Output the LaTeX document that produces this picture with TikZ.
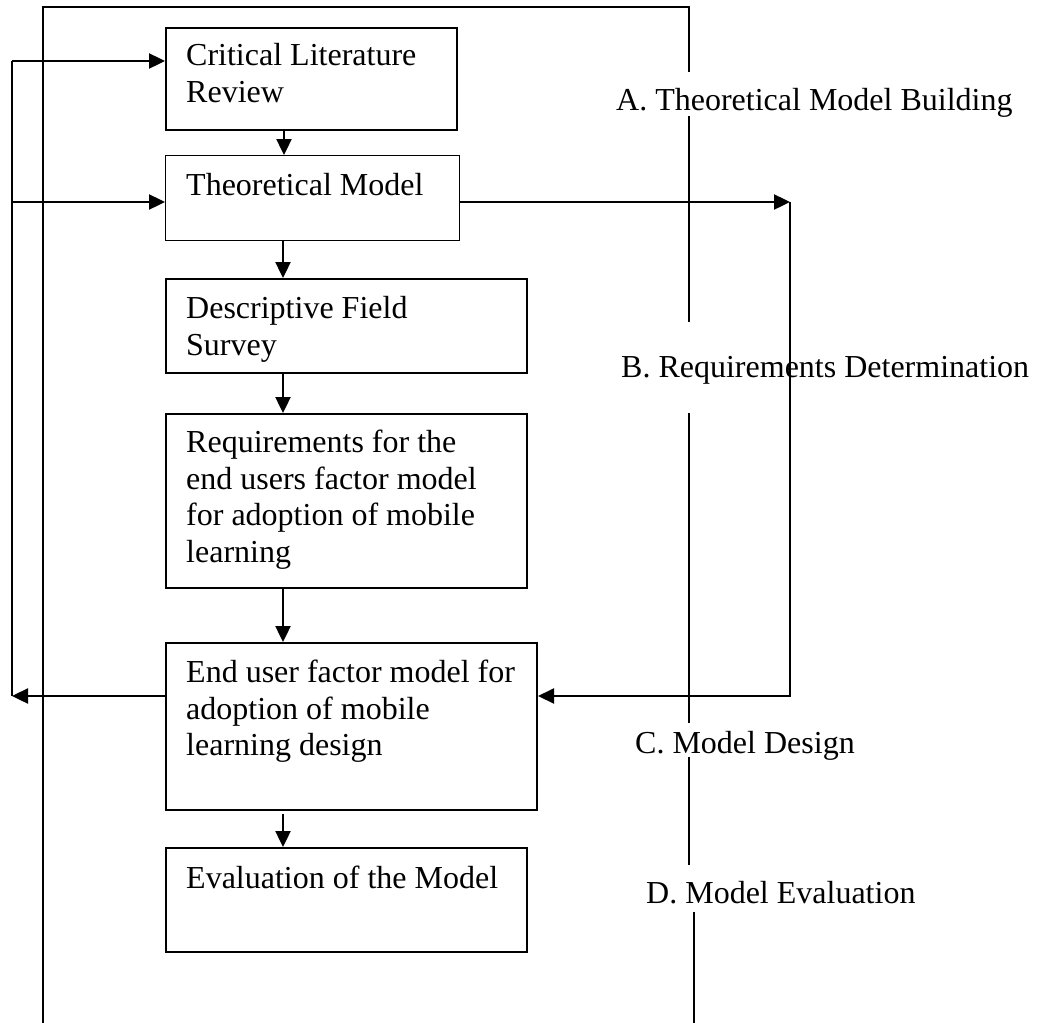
\documentclass[tikz,border=0pt]{standalone}
\usepackage{fontspec}
\setmainfont{Liberation Serif}
\usetikzlibrary{arrows.meta}
\begin{document}
\begin{tikzpicture}[x=1pt,y=-1pt,
  stage/.style={draw=black, line width=2pt, rectangle, inner sep=0pt, anchor=north west},
  boxtext/.style={anchor=north west, inner sep=0pt, align=left,
    font=\fontsize{32pt}{36.8pt}\selectfont},
  phaselabel/.style={anchor=base west, inner sep=0pt,
    font=\fontsize{32pt}{36.8pt}\selectfont},
  flow/.style={line width=2.4pt, -{Triangle[length=16pt,width=15pt]}},
  loopline/.style={line width=2.2pt},
  frameline/.style={line width=1.7pt}]
\useasboundingbox (0,0) rectangle (1042,1023);

% process boxes
\node[stage, minimum width=291pt, minimum height=102pt] (clr) at (165,27) {};
\node[stage, line width=1.3pt, minimum width=294pt, minimum height=85pt] (tm) at (165,155) {};
\node[stage, minimum width=361pt, minimum height=94pt] (dfs) at (165,278) {};
\node[stage, minimum width=361pt, minimum height=174pt] (req) at (165,413) {};
\node[stage, minimum width=371pt, minimum height=167pt] (eum) at (165,642) {};
\node[stage, minimum width=361pt, minimum height=104pt] (eval) at (165,847) {};

% box captions
\node[boxtext] (clr-t) at ([shift={(21,12)}]clr.north west)
  {\rule{0pt}{26pt}Critical Literature\\Review};
\node[boxtext] (tm-t) at ([shift={(21,14)}]tm.north west)
  {\rule{0pt}{26pt}Theoretical Model};
\node[boxtext] (dfs-t) at ([shift={(21,14)}]dfs.north west)
  {\rule{0pt}{26pt}Descriptive Field\\Survey};
\node[boxtext] (req-t) at ([shift={(21,13)}]req.north west)
  {\rule{0pt}{26pt}Requirements for the\\end users factor model\\for adoption of mobile\\learning};
\node[boxtext] (eum-t) at ([shift={(21,14)}]eum.north west)
  {\rule{0pt}{26pt}End user factor model for\\adoption of mobile\\learning design};
\node[boxtext] (eval-t) at ([shift={(21,15)}]eval.north west)
  {\rule{0pt}{26pt}Evaluation of the Model};

% main downward flow
\draw[flow] ([xshift=119pt]clr.south west) -- ([xshift=119pt]tm.north west);
\draw[flow] ([xshift=118pt]tm.south west) -- ([xshift=118pt]dfs.north west);
\draw[flow] ([xshift=118pt]dfs.south west) -- ([xshift=118pt]req.north west);
\draw[flow] ([xshift=118pt]req.south west) -- ([xshift=118pt]eum.north west);
\draw[flow] ([shift={(118,3)}]eum.south west) -- ([xshift=118pt]eval.north west);

% feedback loop on the left
\coordinate (lt) at (12,61);
\coordinate (lm) at (12,202);
\coordinate (lb) at (12,696);
\draw[loopline] (lt) -- (lb);
\draw[flow] (lb -| eum.west) -- (lb);
\draw[flow] (lt) -- (lt -| clr.west);
\draw[flow] (lm) -- (lm -| tm.west);

% loop on the right
\coordinate (rt) at (790,202);
\coordinate (rb) at (790,696);
\draw[flow] (rt -| tm.east) -- (rt);
\draw[flow, line width=2pt] (rt) -- (rb) -- (rb -| eum.east);

% phase frame
\draw[frameline] (43,1023) -- (43,7) -- (689,7) -- (689,72)
  (689,116) -- (689,322)
  (689,413) -- (689,723)
  (689,757) -- (689,865)
  (694,912) -- (694,1023);

% phase labels
\node[phaselabel] (pa) at (616,110) {A. Theoretical Model Building};
\node[phaselabel] (pb) at (621,377) {B. Requirements Determination};
\node[phaselabel] (pc) at (635,753) {C. Model Design};
\node[phaselabel] (pd) at (646,903) {D. Model Evaluation};
\end{tikzpicture}
\end{document}
